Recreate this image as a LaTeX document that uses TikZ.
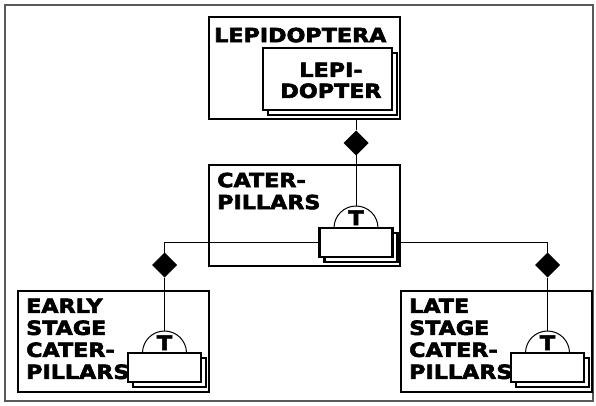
\documentclass[tikz,border=0pt]{standalone}
\usepackage{fontspec}
\newfontfamily\diafont{DejaVu Sans}[FakeStretch=1.14, FakeBold=3]
\usetikzlibrary{shapes.geometric,shadows}
\pgfdeclarelayer{bg}
\pgfsetlayers{bg,main}
\begin{document}
\begin{tikzpicture}[x=1pt,y=-1pt,
  classbox/.style={draw, line width=2.4pt, minimum width=191pt, minimum height=101pt, anchor=north west, inner sep=0pt, outer sep=0pt},
  stackbox/.style={draw, fill=white, line width=2.2pt, anchor=north west, inner sep=0pt, outer sep=0pt,
     minimum width=73pt, minimum height=29pt,
     copy shadow={shadow xshift=5pt, shadow yshift=-5pt}},
  agg/.style={diamond, fill=black, inner sep=0pt, outer sep=0pt, minimum width=25pt, minimum height=25pt, aspect=1},
  conn/.style={line width=1pt},
  semi/.style={line width=1pt},
  lbl/.style={font=\diafont\bfseries\fontsize{19.5}{22}\selectfont, align=left, inner sep=0pt, anchor=north west},
  clbl/.style={font=\diafont\bfseries\fontsize{19.5}{21}\selectfont, align=center, inner sep=0pt, anchor=north},
  tl/.style={font=\diafont\bfseries\fontsize{20}{22}\selectfont, inner sep=0pt, anchor=base}
]
\useasboundingbox (0,0) rectangle (596,406);
\draw[line width=1.3pt, gray!70!black] (5,5) rectangle (593,401);

% class boxes
\node[classbox, minimum height=102pt] (lep) at (209,17) {};
\node[classbox] (cat) at (209,165) {};
\node[classbox] (early) at (18,291) {};
\node[classbox] (late) at (401,291) {};

% labels
\node[lbl] (lepL) at (214,27.5) {LEPIDOPTERA};
\node[lbl] (catL) at (217,172.5) {CATER-\\PILLARS};
\node[lbl] (earlyL) at (26,298.5) {EARLY\\STAGE\\CATER-\\PILLARS};
\node[lbl] (lateL) at (409,298.5) {LATE\\STAGE\\CATER-\\PILLARS};

% stacked parts
\node[stackbox, minimum width=129pt, minimum height=62pt] (st1) at (263,48) {};
\node[clbl] (st1L) at (331,62.5) {LEPI-\\DOPTER};
\node[stackbox] (st2) at (319.5,228) {};
\node[stackbox] (st3) at (128,353) {};
\node[stackbox] (st4) at (511,353) {};

% semicircles with T
\foreach \s in {st2,st3,st4}{
  \draw[semi] ([xshift=-22pt]\s.north) arc[start angle=180, end angle=0, radius=22pt];
  \coordinate (apex-\s) at ([yshift=22pt]\s.north);
  \node[tl] (T-\s) at ([yshift=3pt]\s.north) {T};
}

% aggregation diamonds
\node[agg] (d1) at (356,143) {};
\node[agg] (d2) at (164.5,265) {};
\node[agg] (d3) at (547.5,265) {};

\begin{pgfonlayer}{bg}
\draw[conn] (d1.north |- lep.south) -- (d1.north);
\draw[conn] (d1.south) -- (apex-st2);
\draw[conn] (d2.north) |- (st2.center) -| (d3.north);
\draw[conn] (d2.south) -- (apex-st3);
\draw[conn] (d3.south) -- (apex-st4);
\end{pgfonlayer}
\end{tikzpicture}
\end{document}
